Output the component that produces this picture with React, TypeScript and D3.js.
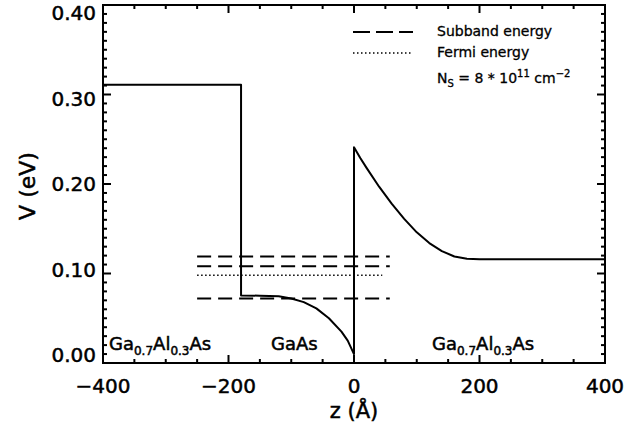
import React from "react";
import * as d3 from "d3";

// potential profile V(z)
const profileZ = [-400, -180, -180, -150, -120, -100, -80, -60, -40, -20, -10, 0, 0, 10, 20, 40, 60, 80, 100, 120, 140, 160, 180, 200, 400];
const profileV = [0.311, 0.311, 0.0755, 0.0752, 0.0745, 0.072, 0.068, 0.061, 0.05, 0.035, 0.025, 0.01, 0.241, 0.229, 0.218, 0.197, 0.178, 0.161, 0.146, 0.134, 0.125, 0.119, 0.1165, 0.116, 0.116];

const subbandLevels = [0.119, 0.108, 0.072];
const subbandRange = [-250, 57];
const fermiLevel = 0.098;
const fermiRange = [-250, 45];

const xTicks = [-400, -200, 0, 200, 400];
const yTicks = [0.0, 0.1, 0.2, 0.3, 0.4];

const margin = { top: 5, right: 36, bottom: 65, left: 103 };
const W = 641;
const H = 428;

const font = "'DejaVu Sans', Verdana, sans-serif";

export default function App() {
  const x = d3.scaleLinear().domain([-400, 400]).range([margin.left, W - margin.right]);
  const y = d3.scaleLinear().domain([0, 0.4]).range([H - margin.bottom, margin.top]);

  const pts: [number, number][] = profileZ.map((z, i) => [z, profileV[i]]);
  const line = d3.line<[number, number]>().x((d) => x(d[0])).y((d) => y(d[1]));

  const x0 = x(-400), x1 = x(400), y0 = y(0), y1 = y(0.4);

  const xMinor = d3.range(-400, 401, 50);
  const yMinor = d3.range(0, 41, 1).map((d) => d / 100);

  const subscriptLabel = (x0: number) => (
    <text x={x0} y={350} fontSize={18}>
      Ga<tspan fontSize={12} dy={5}>0.7</tspan><tspan dy={-5}>Al</tspan><tspan fontSize={12} dy={5}>0.3</tspan><tspan dy={-5}>As</tspan>
    </text>
  );

  return (
    <svg width={W} height={H} style={{ position: "absolute", left: 0, top: 0, background: "#fff" }}
      fontFamily={font}>
      <rect x={0} y={0} width={W} height={H} fill="#fff" />

      {/* ticks */}
      <g stroke="#000" strokeWidth={2}>
        {xMinor.map((t) => {
          const len = xTicks.includes(t) ? 8 : 4;
          return (
            <g key={"x" + t}>
              <line x1={x(t)} x2={x(t)} y1={y0} y2={y0 - len} />
              <line x1={x(t)} x2={x(t)} y1={y1} y2={y1 + len} />
            </g>
          );
        })}
        {yMinor.map((t, i) => {
          const len = i % 10 === 0 ? 8 : 4;
          return (
            <g key={"y" + i}>
              <line x1={x0} x2={x0 + len} y1={y(t)} y2={y(t)} />
              <line x1={x1} x2={x1 - len} y1={y(t)} y2={y(t)} />
            </g>
          );
        })}
      </g>

      {/* frame */}
      <rect x={x0} y={y1} width={x1 - x0} height={y0 - y1} fill="none" stroke="#000" strokeWidth={2} />

      <g stroke="#000" strokeWidth={0.5}>
        {/* tick labels */}
        {xTicks.map((t) => (
          <text key={"xl" + t} x={x(t)} y={393} textAnchor="middle" fontSize={20}>
            {t < 0 ? "\u2212" + Math.abs(t) : t}
          </text>
        ))}
        {yTicks.map((t) => (
          <text key={"yl" + t} x={96} y={y(t) + (t - 0.2) * 40} dy="0.36em" textAnchor="end" fontSize={20}>
            {t.toFixed(2)}
          </text>
        ))}

        <text x={x(0)} y={418} textAnchor="middle" fontSize={21}>z (Å)</text>
        <text transform={`translate(35,186) rotate(-90)`} textAnchor="middle" fontSize={22}>V (eV)</text>

        {/* region labels */}
        {subscriptLabel(109)}
        <text x={271} y={350} fontSize={18}>GaAs</text>
        {subscriptLabel(432)}
      </g>

      {/* subband and Fermi levels */}
      {subbandLevels.map((v) => (
        <line key={"s" + v} x1={x(subbandRange[0])} x2={x(subbandRange[1])} y1={y(v)} y2={y(v)}
          stroke="#000" strokeWidth={2} strokeDasharray="14,7" />
      ))}
      <line x1={x(fermiRange[0])} x2={x(fermiRange[1])} y1={y(fermiLevel)} y2={y(fermiLevel)}
        stroke="#000" strokeWidth={1.5} strokeDasharray="1.5,2.5" />

      {/* potential */}
      <path d={line(pts) || ""} fill="none" stroke="#000" strokeWidth={2} strokeLinejoin="round" />

      {/* legend */}
      <line x1={353} x2={413} y1={32} y2={32} stroke="#000" strokeWidth={2} strokeDasharray="17,6" />
      <line x1={353} x2={413} y1={53} y2={53} stroke="#000" strokeWidth={1.5} strokeDasharray="1.5,2.5" />
      <g stroke="#000" strokeWidth={0.3}>
        <text x={437} y={36} fontSize={14}>Subband energy</text>
        <text x={437} y={57} fontSize={14}>Fermi energy</text>
        <text x={437} y={83} fontSize={14}>
          N<tspan fontSize={10} dy={4}>S</tspan><tspan dy={-4}> = 8 * 10</tspan><tspan fontSize={10} dy={-6}>11</tspan><tspan dy={6}> cm</tspan><tspan fontSize={10} dy={-6}>−2</tspan>
        </text>
      </g>
    </svg>
  );
}
